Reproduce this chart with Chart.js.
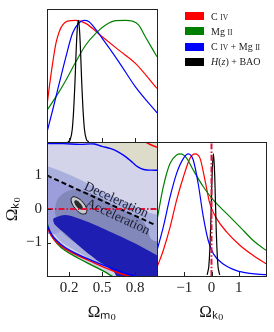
<!DOCTYPE html>
<html>
<head>
<meta charset="utf-8">
<script src="https://cdn.jsdelivr.net/npm/chart.js@4.4.1/dist/chart.umd.min.js"></script>
<style>
  html, body { margin: 0; padding: 0; background: #fff; }
  #wrap { position: relative; width: 274px; height: 332px; overflow: hidden; }
  #wrap canvas { position: absolute; left: 0; top: 0; }
  #legend { position: absolute; left: 185px; top: 8.5px; font-family: 'Liberation Serif', serif; font-size: 10px; color: #222; }
  #legend .row { height: 15.3px; line-height: 15.3px; white-space: nowrap; }
  #legend .sw { display: inline-block; width: 19px; height: 8px; margin-right: 7px; vertical-align: -0.5px; }
  #legend .sc { font-size: 7.5px; }
</style>
</head>
<body>
<div id="wrap">
  <canvas id="margM" width="274" height="332"></canvas>
  <canvas id="joint" width="274" height="332"></canvas>
  <canvas id="margK" width="274" height="332"></canvas>
  <div id="legend"></div>
</div>
<script>
// series
const seriesNames = ['C IV', 'Mg II', 'C IV + Mg II', 'H(z) + BAO'];
const seriesColors = ['#ff0000', '#008000', '#0000ff', '#000000'];

// axis ticks
const mTicks = [0.2, 0.5, 0.8];
const kTicks = [-1, 0, 1];

// marginal of Omega_m0 (top panel)
const civM_x = [0, 0.021, 0.051, 0.081, 0.111, 0.141, 0.186, 0.262, 0.352, 0.502, 0.653, 0.804, 1.0];
const civM_y = [0.30, 0.453, 0.646, 0.81, 0.906, 0.961, 0.994, 1.0, 0.975, 0.865, 0.755, 0.646, 0.44];
const mgM_x = [0, 0.081, 0.172, 0.262, 0.352, 0.443, 0.533, 0.623, 0.714, 0.773, 0.834, 0.894, 1.0];
const mgM_y = [0.261, 0.371, 0.508, 0.659, 0.797, 0.893, 0.961, 0.997, 1.0, 0.994, 0.961, 0.865, 0.70];
const bothM_x = [0, 0.051, 0.111, 0.172, 0.232, 0.292, 0.337, 0.382, 0.502, 0.653, 0.804, 1.0];
const bothM_y = [0.082, 0.261, 0.481, 0.70, 0.893, 0.98, 1.0, 0.989, 0.852, 0.659, 0.453, 0.24];
const hzM_x = [0.19, 0.21, 0.23, 0.25, 0.265, 0.275, 0.285, 0.295, 0.305, 0.32, 0.34, 0.36, 0.38];
const hzM_y = [0.001, 0.016, 0.107, 0.404, 0.744, 0.929, 1.0, 0.929, 0.744, 0.404, 0.107, 0.016, 0.001];

// marginal of Omega_k0 (right panel)
const civK_x = [-2, -1.77, -1.52, -1.28, -1.03, -0.79, -0.61, -0.42, -0.24, -0.06, 0.19, 0.56, 1.05, 1.53, 2.0];
const civK_y = [0.071, 0.209, 0.40, 0.621, 0.813, 0.964, 1.0, 0.964, 0.786, 0.593, 0.47, 0.36, 0.25, 0.168, 0.10];
const mgK_x = [-2, -1.77, -1.52, -1.28, -1.13, -0.91, -0.67, -0.30, 0.07, 0.56, 1.05, 1.53, 2.0];
const mgK_y = [0.456, 0.73, 0.923, 0.992, 1.0, 0.964, 0.868, 0.731, 0.621, 0.511, 0.401, 0.291, 0.21];
const bothK_x = [-2, -1.77, -1.52, -1.28, -1.03, -0.85, -0.67, -0.49, -0.30, -0.12, 0.07, 0.43, 0.92, 1.41, 2.0];
const bothK_y = [0.209, 0.40, 0.648, 0.841, 0.964, 1.0, 0.95, 0.758, 0.484, 0.291, 0.181, 0.099, 0.044, 0.022, 0.011];
const hzK_x = [-0.16, -0.10, -0.05, -0.01, 0.03, 0.07, 0.11, 0.15, 0.19, 0.24, 0.30];
const hzK_y = [0.009, 0.076, 0.278, 0.566, 0.867, 1.0, 0.867, 0.566, 0.278, 0.076, 0.009];

// joint contours (Omega_m0, Omega_k0), outer to inner
const outer_x = [-0.1, 1.1, 1.1, 0.65, 0.6, 0.51, 0.41, 0.285, 0.165, 0.09, 0.04, 0, -0.1];
const outer_y = [2.2, 2.2, -2.2, -2.2, -2.02, -1.85, -1.68, -1.47, -1.24, -1.02, -0.8, -0.52, -0.2];
const beige_x = [0.44, 0.47, 0.55, 0.62, 0.72, 0.8, 0.85, 0.9, 1.1, 1.1];
const beige_y = [2.2, 1.88, 1.8, 1.73, 1.55, 1.33, 1.22, 1.17, 1.16, 2.2];
const mid_x = [-0.1, 0, 0.15, 0.3, 0.45, 0.6, 0.75, 0.9, 1.1, 1.1, 0.74, 0.58, 0.43, 0.28, 0.14, 0.05, -0.1];
const mid_y = [1.4, 1.28, 1.1, 0.88, 0.62, 0.38, 0.15, -0.08, -0.35, -2.2, -2.2, -1.8, -1.54, -1.28, -1.01, -0.7, -0.3];
const band_x = [-0.1, 0.1, 0.25, 0.4, 0.3, 0.15, 0.06, -0.1];
const band_y = [1.05, 0.85, 0.62, 0.4, -0.2, -0.6, -0.75, -0.6];
const gray_x = [0.07, 0.09, 0.14, 0.22, 0.32, 0.45, 0.6, 0.75, 0.86, 0.91, 0.95, 1.1, 1.1, 0.76, 0.62, 0.45, 0.28, 0.13];
const gray_y = [-0.1, 0.25, 0.45, 0.57, 0.55, 0.38, 0.12, -0.12, -0.32, -0.55, -0.9, -1.1, -2.2, -2.2, -1.8, -1.45, -1.06, -0.66];
const dark_x = [0.055, 0.066, 0.17, 0.3, 0.47, 0.6, 0.75, 0.9, 1.0, 1.1, 1.1, 0.68, 0.6, 0.45, 0.3, 0.16, 0.07];
const dark_y = [-0.33, -0.27, -0.18, -0.3, -0.52, -0.72, -0.95, -1.2, -1.38, -1.5, -2.2, -2.2, -1.85, -1.52, -1.13, -0.72, -0.46];
const hzOut_x = [0.355, 0.313, 0.258, 0.222, 0.228, 0.271, 0.326, 0.361];
const hzOut_y = [-0.14, -0.14, 0.01, 0.21, 0.35, 0.34, 0.20, -0.006];
const hzIn_x = [0.322, 0.30, 0.27, 0.25, 0.252, 0.275, 0.304, 0.324];
const hzIn_y = [-0.02, -0.01, 0.07, 0.18, 0.25, 0.25, 0.165, 0.06];

// contour edges drawn as lines
const civLow_x = [0, 0.04, 0.09, 0.165, 0.285, 0.41, 0.52, 0.63, 0.76];
const civLow_y = [-0.52, -0.8, -1.0, -1.19, -1.40, -1.58, -1.74, -1.88, -2.02];
const bothLow_x = [0, 0.04, 0.09, 0.165, 0.285, 0.41, 0.53, 0.66, 0.82];
const bothLow_y = [-0.47, -0.75, -0.95, -1.15, -1.36, -1.54, -1.7, -1.86, -2.02];
const mgLow_x = [0, 0.04, 0.09, 0.165, 0.285, 0.41, 0.51, 0.6];
const mgLow_y = [-0.42, -0.78, -1.02, -1.24, -1.47, -1.68, -1.85, -2.02];
const bothTop_x = [-0.05, 0.15, 0.3, 0.43, 0.5, 0.58, 0.65, 0.72, 0.78, 0.83, 0.88, 0.95, 1.05];
const bothTop_y = [1.96, 1.95, 1.93, 1.94, 1.87, 1.8, 1.7, 1.55, 1.38, 1.25, 1.18, 1.16, 1.16];
const civTop_x = [0.86, 0.93, 1.0, 1.05];
const civTop_y = [2.05, 1.94, 1.84, 1.8];

// q = 0 line and flat line
const qLine_x = [0, 0.97];
const qLine_y = [1, -0.455];
const flat_x = [0, 1];
const flat_y = [0, 0];
const regionNames = ['Deceleration', 'Acceleration'];
const regionPos_x = [0.629, 0.644];
const regionPos_y = [0.265, -0.244];

Chart.defaults.font.family = "'Liberation Serif', serif";
Chart.defaults.color = '#222';

function pts(xs, ys) {
    return xs.map((x, i) => ({ x: x, y: ys[i] }));
}

function curve(xs, ys, color, extra) {
    return Object.assign({
        data: pts(xs, ys),
        showLine: true,
        borderColor: color,
        borderWidth: 1.2,
        pointRadius: 0,
        fill: false,
        cubicInterpolationMode: 'monotone'
    }, extra || {});
}

function region(xs, ys, color, extra) {
    const p = pts(xs, ys);
    p.push(p[0]);
    return Object.assign({
        data: p,
        showLine: true,
        fill: 'shape',
        backgroundColor: color,
        borderColor: 'rgba(0,0,0,0)',
        borderWidth: 0.5,
        pointRadius: 0,
        tension: 0.35
    }, extra || {});
}

function kLabel(v) {
    return v < 0 ? '\u2212' + Math.abs(v) : String(v);
}

// box around each panel plus inward ticks
const panelFrame = {
    id: 'panelFrame',
    afterDraw(chart, args, opts) {
        const { ctx, chartArea: a, scales } = chart;
        ctx.save();
        ctx.strokeStyle = '#222';
        ctx.lineWidth = 1;
        (opts.xTicks || []).forEach(v => {
            const x = Math.round(scales.x.getPixelForValue(v)) + 0.5;
            ctx.beginPath();
            ctx.moveTo(x, a.bottom);
            ctx.lineTo(x, a.bottom - 4);
            ctx.stroke();
        });
        (opts.yTicks || []).forEach(v => {
            const y = Math.round(scales.y.getPixelForValue(v)) + 0.5;
            ctx.beginPath();
            ctx.moveTo(a.left, y);
            ctx.lineTo(a.left + 4, y);
            ctx.stroke();
        });
        ctx.strokeRect(Math.round(a.left) + 0.5, Math.round(a.top) + 0.5, Math.round(a.width), Math.round(a.height));
        ctx.restore();
    }
};

// rotated text along the q = 0 line
const regionText = {
    id: 'regionText',
    afterDatasetsDraw(chart) {
        const { ctx, scales: { x, y } } = chart;
        const ang = Math.atan2(
            y.getPixelForValue(qLine_y[1]) - y.getPixelForValue(qLine_y[0]),
            x.getPixelForValue(qLine_x[1]) - x.getPixelForValue(qLine_x[0]));
        ctx.save();
        ctx.fillStyle = '#1c1c2c';
        ctx.font = "13.5px 'Liberation Serif', serif";
        ctx.textAlign = 'center';
        ctx.textBaseline = 'middle';
        regionNames.forEach((t, i) => {
            ctx.save();
            ctx.translate(x.getPixelForValue(regionPos_x[i]), y.getPixelForValue(regionPos_y[i]));
            ctx.rotate(ang);
            ctx.fillText(t, 0, 0);
            ctx.restore();
        });
        ctx.restore();
    }
};

const base = {
    responsive: false,
    animation: false,
    devicePixelRatio: 1,
    events: []
};

// top panel
new Chart(document.getElementById('margM'), {
    type: 'scatter',
    data: {
        datasets: [
            curve(hzM_x, hzM_y, seriesColors[3], { label: seriesNames[3], cubicInterpolationMode: 'default', tension: 0.4 }),
            curve(bothM_x, bothM_y, seriesColors[2], { label: seriesNames[2] }),
            curve(mgM_x, mgM_y, seriesColors[1], { label: seriesNames[1] }),
            curve(civM_x, civM_y, seriesColors[0], { label: seriesNames[0] })
        ]
    },
    options: Object.assign({}, base, {
        layout: { padding: { left: 47, top: 9, right: 117, bottom: 190 }, autoPadding: false },
        scales: {
            x: { type: 'linear', min: 0, max: 1, display: false },
            y: { type: 'linear', min: 0, max: 1.093, display: false }
        },
        plugins: { legend: { display: false }, tooltip: { enabled: false }, panelFrame: { xTicks: mTicks } }
    }),
    plugins: [panelFrame]
});

// joint panel
const jointSets = [
    region(outer_x, outer_y, '#d3d4e9'),
    region(beige_x, beige_y, '#dddccb'),
    region(mid_x, mid_y, '#aab0de'),
    region(band_x, band_y, '#9c9edc'),
    region(gray_x, gray_y, '#8288b9'),
    region(dark_x, dark_y, '#1e1eb2'),
    curve(mgLow_x, mgLow_y, seriesColors[1], { cubicInterpolationMode: 'default', tension: 0.4, borderWidth: 1.4 }),
    curve(civLow_x, civLow_y, seriesColors[0], { cubicInterpolationMode: 'default', tension: 0.4, borderWidth: 1.4 }),
    curve(bothLow_x, bothLow_y, seriesColors[2], { cubicInterpolationMode: 'default', tension: 0.4, borderWidth: 1.4 }),
    curve(bothTop_x, bothTop_y, seriesColors[2], { cubicInterpolationMode: 'default', tension: 0.4, borderWidth: 1.4 }),
    curve(civTop_x, civTop_y, seriesColors[0], { cubicInterpolationMode: 'default', tension: 0.4, borderWidth: 1.4 }),
    region(hzOut_x, hzOut_y, '#c8c8d0', { borderColor: '#111', borderWidth: 1, tension: 0.45 }),
    region(hzIn_x, hzIn_y, '#2a2a2a', { tension: 0.45 }),
    curve(qLine_x, qLine_y, '#000', { borderWidth: 2, borderDash: [5, 3] }),
    curve(flat_x, flat_y, '#dc143c', { borderWidth: 2, borderDash: [6, 2, 1.5, 2] })
];
jointSets.forEach((d, i) => { d.order = jointSets.length - i; });

new Chart(document.getElementById('joint'), {
    type: 'scatter',
    data: { datasets: jointSets },
    options: Object.assign({}, base, {
        layout: { padding: { left: 2, top: 142, right: 117, bottom: 9 }, autoPadding: false },
        scales: {
            x: {
                type: 'linear', min: 0, max: 1,
                afterBuildTicks: s => { s.ticks = mTicks.map(v => ({ value: v })); },
                afterFit: s => { s.height = 47; },
                ticks: { font: { size: 15 }, padding: 3, maxRotation: 0, autoSkip: false, callback: v => v.toFixed(1) },
                grid: { display: false, drawTicks: false },
                border: { display: false },
                title: { display: true, text: '\u03A9\u2098\u2080', font: { size: 17 }, padding: 0, color: '#111' }
            },
            y: {
                type: 'linear', min: -2, max: 2,
                afterBuildTicks: s => { s.ticks = kTicks.map(v => ({ value: v })); },
                afterFit: s => { s.width = 45; },
                ticks: { font: { size: 15 }, padding: 5, autoSkip: false, callback: kLabel },
                grid: { display: false, drawTicks: false },
                border: { display: false },
                title: { display: true, text: '\u03A9\u2096\u2080', font: { size: 17 }, padding: 0, color: '#111' }
            }
        },
        plugins: { legend: { display: false }, tooltip: { enabled: false }, panelFrame: { xTicks: mTicks, yTicks: kTicks } }
    }),
    plugins: [regionText, panelFrame]
});

// right panel
new Chart(document.getElementById('margK'), {
    type: 'scatter',
    data: {
        datasets: [
            curve([0, 0], [0, 1.2], '#dc143c', { borderWidth: 2, borderDash: [6, 2, 1.5, 2] }),
            curve(hzK_x, hzK_y, seriesColors[3], { label: seriesNames[3], cubicInterpolationMode: 'default', tension: 0.4 }),
            curve(bothK_x, bothK_y, seriesColors[2], { label: seriesNames[2] }),
            curve(mgK_x, mgK_y, seriesColors[1], { label: seriesNames[1] }),
            curve(civK_x, civK_y, seriesColors[0], { label: seriesNames[0] })
        ]
    },
    options: Object.assign({}, base, {
        layout: { padding: { left: 157, top: 142, right: 8, bottom: 9 }, autoPadding: false },
        scales: {
            x: {
                type: 'linear', min: -2, max: 2,
                afterBuildTicks: s => { s.ticks = kTicks.map(v => ({ value: v })); },
                afterFit: s => { s.height = 47; },
                ticks: { font: { size: 15 }, padding: 3, maxRotation: 0, autoSkip: false, callback: kLabel },
                grid: { display: false, drawTicks: false },
                border: { display: false },
                title: { display: true, text: '\u03A9\u2096\u2080', font: { size: 17 }, padding: 0, color: '#111' }
            },
            y: { type: 'linear', min: 0, max: 1.098, display: false }
        },
        plugins: { legend: { display: false }, tooltip: { enabled: false }, panelFrame: { xTicks: kTicks } }
    }),
    plugins: [panelFrame]
});

// legend
function legendHtml(name) {
    return name
        .replace(/\b(IV|II)\b/g, '<span class="sc">$1</span>')
        .replace('H(z)', '<i>H</i>(<i>z</i>)');
}
document.getElementById('legend').innerHTML = seriesNames.map((n, i) =>
    `<div class="row"><span class="sw" style="background:${seriesColors[i]}"></span>${legendHtml(n)}</div>`
).join('');
</script>
</body>
</html>
